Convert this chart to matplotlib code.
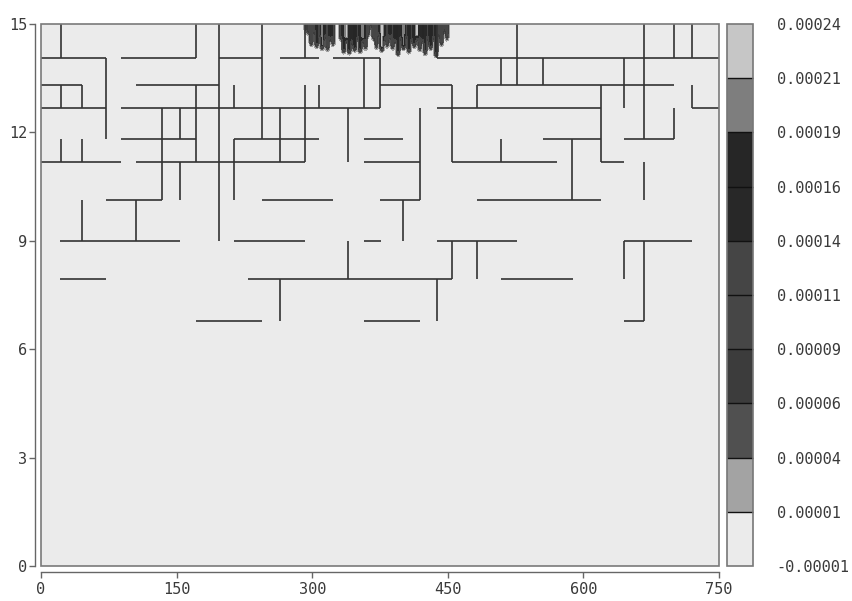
import numpy as np
import matplotlib
matplotlib.use('Agg')
from matplotlib import pyplot as plt
from matplotlib.patches import Rectangle

plt.rcParams['font.family'] = ['DejaVu Sans Mono', 'DejaVu Sans']
plt.rcParams['font.size'] = 11

# colour levels of the contour map (bin edges) and their printed labels
levels = np.linspace(-0.00001, 0.00024, 11)
level_labels = ['-0.00001', '0.00001', '0.00004', '0.00006', '0.00009', '0.00011',
                '0.00014', '0.00016', '0.00019', '0.00021', '0.00024']
bin_colors = ['#ebebeb', '#a3a3a3', '#505050', '#3c3c3c', '#464646',
              '#454545', '#282828', '#262626', '#7e7e7e', '#c6c6c6']

# spiky plume under the top edge: column position, lowest depth reached, peak value (1e-5)
spike_x = [296, 299, 302, 305, 308, 311, 314, 317, 320, 323, 326, 329, 332, 335, 338,
           341, 344, 347, 350, 353, 356, 359, 362, 365, 368, 371, 374, 377, 380, 383,
           386, 389, 392, 395, 398, 401, 404, 407, 410, 413, 416, 419, 422, 425, 428,
           431, 434, 437, 440, 443, 446, 449, 452]
spike_depth = [14.65, 14.35, 14.7, 14.3, 14.6, 14.25, 14.55, 14.2, 14.5, 14.35, 15.0,
               15.0, 14.5, 14.15, 14.45, 14.12, 14.4, 14.2, 14.5, 14.15, 14.45, 14.25, 14.6,
               14.85, 14.5, 14.25, 14.6, 14.2, 14.5, 14.3, 14.55, 14.25, 14.45, 14.08, 14.5,
               14.25, 14.55, 14.15, 14.45, 14.3, 14.5, 14.2, 14.45, 14.1, 14.5, 14.25, 14.5,
               14.05, 14.6, 14.35, 14.7, 14.5, 15.0]
spike_peak = [10, 14, 12, 16, 11, 20, 15, 12, 17, 13, 0, 0, 14, 17, 22, 16, 13, 18, 12,
              16, 21, 14, 11, 8, 13, 10, 15, 22, 16, 12, 17, 13, 18, 16, 14, 21, 12, 17,
              13, 16, 22, 12, 17, 15, 13, 18, 12, 16, 10, 14, 9, 11, 0]
tip_length = 0.2   # depth over which a spike fades out

# fracture segments: horizontal (y, x0, x1) and vertical (x, y0, y1)
h_segs = [(14.05, 0, 72), (14.05, 88, 171), (14.05, 197, 244), (14.05, 264, 307),
          (14.05, 323, 375), (14.05, 438, 750),
          (13.31, 0, 45), (13.31, 105, 197), (13.31, 375, 455), (13.31, 482, 700),
          (12.68, 0, 72), (12.68, 88, 375), (12.68, 438, 619), (12.68, 720, 750),
          (11.81, 88, 171), (11.81, 213, 307), (11.81, 357, 400), (11.81, 555, 619),
          (11.81, 645, 700),
          (11.17, 0, 88), (11.17, 105, 292), (11.17, 357, 419), (11.17, 455, 571),
          (11.17, 619, 645),
          (10.13, 72, 134), (10.13, 244, 323), (10.13, 375, 419), (10.13, 482, 619),
          (9.0, 21, 154), (9.0, 213, 292), (9.0, 357, 376), (9.0, 438, 527), (9.0, 645, 720),
          (7.94, 21, 72), (7.94, 229, 455), (7.94, 509, 588),
          (6.79, 171, 244), (6.79, 357, 419), (6.79, 645, 667)]
v_segs = [(22, 14.05, 15), (22, 12.68, 13.31), (22, 11.17, 11.81),
          (45, 12.68, 13.31), (45, 11.17, 11.81), (45, 9.0, 10.13),
          (72, 11.81, 14.05), (105, 9.0, 10.13), (134, 10.13, 12.68),
          (154, 11.81, 12.68), (154, 10.13, 11.17),
          (171, 14.05, 15), (171, 11.17, 13.31), (197, 9.0, 15),
          (213, 12.68, 13.31), (213, 10.13, 11.81), (244, 11.81, 15),
          (264, 11.17, 12.68), (264, 6.79, 7.94),
          (292, 14.05, 15), (292, 11.17, 13.31), (307, 12.68, 13.31),
          (340, 11.17, 12.68), (340, 7.94, 9.0),
          (357, 12.68, 14.05), (375, 12.68, 14.05), (400, 9.0, 10.13),
          (419, 10.13, 12.68), (438, 14.05, 15), (438, 6.79, 7.94),
          (455, 11.17, 13.31), (455, 7.94, 9.0),
          (482, 12.68, 13.31), (482, 7.94, 9.0),
          (509, 13.31, 14.05), (509, 11.17, 11.81),
          (527, 13.31, 15), (555, 13.31, 14.05), (587, 10.13, 11.81),
          (619, 11.17, 13.31), (645, 12.68, 14.05), (645, 7.94, 9.0),
          (667, 11.81, 15), (667, 10.13, 11.17), (667, 6.79, 9.0),
          (700, 14.05, 15), (700, 11.81, 12.68),
          (720, 14.05, 15), (720, 12.68, 13.31)]

x_ticks = [0, 150, 300, 450, 600, 750]
y_ticks = [0, 3, 6, 9, 12, 15]

# build the field on a grid (zero everywhere except the plume columns)
xs = np.array([0, 290] + spike_x + [456, 750], dtype=float)
ys = np.concatenate([[0, 13.95], np.linspace(14.0, 15.0, 51)])
Z = np.zeros((len(ys), len(xs)))
for j, (d, p) in enumerate(zip(spike_depth, spike_peak)):
    if d >= 15:
        continue
    Z[:, j + 2] = p * 1e-5 * np.clip((ys - d) / tip_length, 0, 1)
X, Y = np.meshgrid(xs, ys)

fig = plt.figure(figsize=(8.53, 6.01), dpi=100)
ax = fig.add_axes([41/853, 35/601, 678/853, 542/601])
cax = fig.add_axes([727/853, 35/601, 26/853, 542/601])

cs = ax.contourf(X, Y, Z, levels=levels, colors=bin_colors)

for y, x0, x1 in h_segs:
    ax.plot([x0, x1], [y, y], color='#333333', lw=1.2, solid_capstyle='butt')
for x, y0, y1 in v_segs:
    ax.plot([x, x], [y0, y1], color='#333333', lw=1.2, solid_capstyle='butt')

ax.set_xlim(0, 750)
ax.set_ylim(0, 15)
ax.set_xticks(x_ticks)
ax.set_yticks(y_ticks)
for s in ['top', 'right']:
    ax.spines[s].set_visible(False)
for s in ['left', 'bottom']:
    ax.spines[s].set_position(('outward', 4.3))
    ax.spines[s].set_color('#666666')
    ax.spines[s].set_linewidth(1.0)
ax.add_patch(Rectangle((0, 0), 1, 1, transform=ax.transAxes, fill=False,
                       ec='#7a7a7a', lw=1.2, clip_on=False, zorder=5))
ax.tick_params(axis='both', direction='out', length=4.5, width=1.0, color='#666666',
               labelcolor='#3a3a3a', labelsize=11)
ax.tick_params(axis='x', pad=3)
ax.tick_params(axis='y', pad=1)

cbar = fig.colorbar(cs, cax=cax, drawedges=True, ticks=levels)
cbar.ax.set_yticklabels(level_labels)
cbar.ax.tick_params(length=0, pad=17, labelcolor='#3a3a3a', labelsize=11)
cbar.outline.set_edgecolor('#777777')
cbar.outline.set_linewidth(1.2)
cbar.dividers.set_color('#111111')
cbar.dividers.set_linewidth(1.0)

fig.savefig('out.png', dpi=100)
